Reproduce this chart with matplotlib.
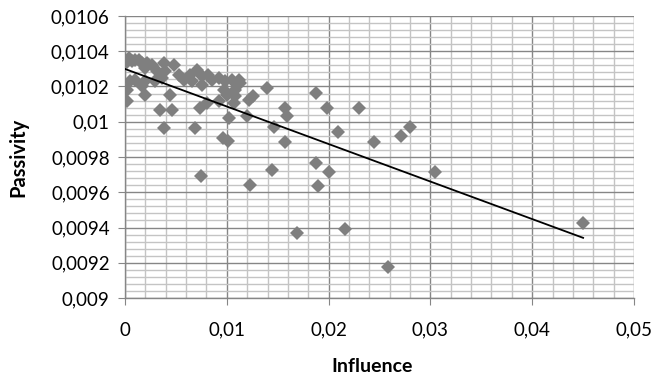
import numpy as np
import matplotlib
matplotlib.use("Agg")
import matplotlib.pyplot as plt
from matplotlib.ticker import MultipleLocator, FuncFormatter

# values
influence = [
    0.0, 0.0002, 0.0004, 0.0007, 0.001, 0.00135, 0.0017, 0.0022, 0.0027, 0.002,
    0.0038, 0.0048, 0.0031, 0.0039, 0.0053, 0.0058, 0.0064, 0.0071, 0.0076, 0.0082,
    0.0085, 0.0092, 0.0098, 0.0105, 0.0112, 0.0113, 0.0076, 0.0066, 0.0097, 0.0108,
    0.0108, 0.0139, 0.0005, 0.001, 0.002, 0.0029, 0.0036, 0.0017, 0.0002, 0.0002,
    0.002, 0.0044, 0.0034, 0.0046, 0.0038, 0.0069, 0.0074, 0.0081, 0.0092, 0.0100,
    0.0102, 0.0107, 0.0122, 0.0126, 0.0120, 0.0096, 0.0101, 0.0146, 0.0075, 0.0123,
    0.0157, 0.0157, 0.0159, 0.0144, 0.0188, 0.0198, 0.0230, 0.0209, 0.0245, 0.0271,
    0.0280, 0.0305, 0.0188, 0.0200, 0.0190, 0.0169, 0.0216, 0.0258, 0.0450,
]
passivity = [
    0.01035, 0.01034, 0.01036, 0.010345, 0.01035, 0.010352, 0.010333, 0.010333, 0.010324, 0.010305,
    0.010333, 0.010324, 0.010288, 0.010288, 0.010267, 0.010239, 0.010267, 0.010295, 0.01026, 0.010267,
    0.010239, 0.010248, 0.010231, 0.010239, 0.010239, 0.01022, 0.01021, 0.010231, 0.010182, 0.010182,
    0.010146, 0.010191, 0.010231, 0.010239, 0.010231, 0.010231, 0.010248, 0.010203, 0.010182, 0.010118,
    0.010153, 0.010153, 0.010068, 0.010068, 0.009965, 0.009965, 0.010078, 0.010106, 0.010118, 0.010153,
    0.010021, 0.010106, 0.010125, 0.010146, 0.010031, 0.009905, 0.00989, 0.00997, 0.009692, 0.00964,
    0.009887, 0.010078, 0.010031, 0.009726, 0.010165, 0.010078, 0.010078, 0.009942, 0.009887, 0.009919,
    0.00997, 0.009717, 0.009768, 0.009717, 0.009635, 0.009369, 0.009391, 0.009176, 0.009427,
]

x = np.array(influence)
y = np.array(passivity)

plt.rcParams['font.family'] = ['Lato', 'DejaVu Sans']

fig = plt.figure(figsize=(6.6, 3.79), dpi=100)
ax = fig.add_axes([0.1894, 0.2137, 0.7712, 0.7441])

# gridlines, Excel style: light minor, darker major
ax.xaxis.set_major_locator(MultipleLocator(0.01))
ax.xaxis.set_minor_locator(MultipleLocator(0.002))
ax.yaxis.set_major_locator(MultipleLocator(0.0002))
ax.yaxis.set_minor_locator(MultipleLocator(0.00004))
ax.grid(True, which='minor', color='#c4c4c4', linewidth=1.0)
ax.grid(True, which='major', color='#868686', linewidth=1.0)
ax.set_axisbelow(True)

ax.plot(x, y, linestyle='none', marker='D', markersize=7, color='#7f7f7f',
        markeredgewidth=0, zorder=3)

# linear trendline
slope, intercept = np.polyfit(x, y, 1)
xt = np.array([x.min(), x.max()])
ax.plot(xt, slope * xt + intercept, color='black', linewidth=1.3, zorder=4)

ax.set_xlim(0, 0.05)
ax.set_ylim(0.009, 0.0106)

def comma_fmt(v, pos):
    s = f"{v:.4f}".rstrip('0').rstrip('.')
    return s.replace('.', ',')

ax.xaxis.set_major_formatter(FuncFormatter(comma_fmt))
ax.yaxis.set_major_formatter(FuncFormatter(comma_fmt))

for side in ['top', 'right']:
    ax.spines[side].set_visible(False)
for side in ['left', 'bottom']:
    ax.spines[side].set_color('#868686')
    ax.spines[side].set_linewidth(1.0)

ax.tick_params(which='major', direction='out', length=5, color='#868686',
               labelsize=13.5, labelcolor='black', pad=6)
ax.tick_params(which='minor', length=0)
ax.tick_params(axis='x', pad=12)

ax.set_xlabel('Influence', fontsize=14, fontweight='bold')
ax.set_ylabel('Passivity', fontsize=14.5, fontweight='bold')
ax.xaxis.set_label_coords(0.485, -0.212)
ax.yaxis.set_label_coords(-0.19, 0.5)

fig.savefig('out.png', dpi=100)
